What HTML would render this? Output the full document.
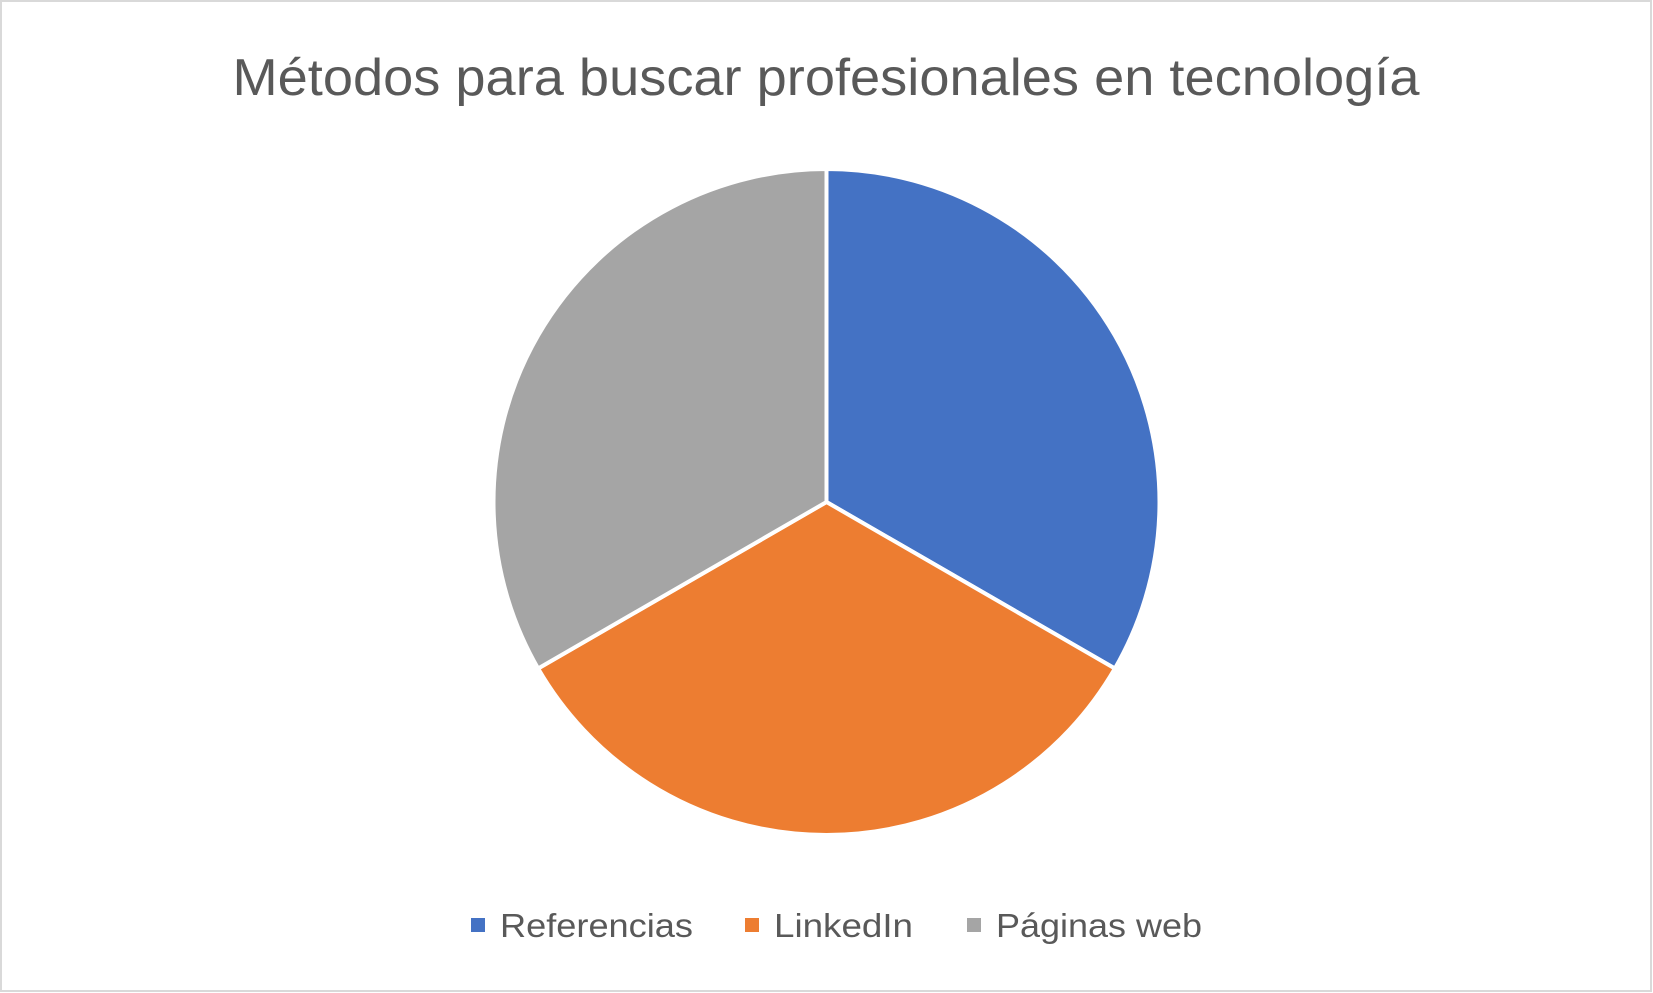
<!DOCTYPE html>
<html><head><meta charset="utf-8"><style>
html,body{margin:0;padding:0;background:#fff;}
svg{display:block;}
</style></head><body>
<svg id="chart" width="1653" height="993" viewBox="0 0 1653 993">
<rect x="1" y="1" width="1650" height="990" fill="#fff" stroke="#d9d9d9" stroke-width="2"/>
<text x="826" y="95" text-anchor="middle" font-family="Liberation Sans, sans-serif" font-size="52" fill="#595959" textLength="1187" lengthAdjust="spacingAndGlyphs">Métodos para buscar profesionales en tecnología</text>
<g id="slices"></g>
<g id="legend"></g>
</svg>
<script>
const categories = ["Referencias", "LinkedIn", "Páginas web"];
const values = [1, 1, 1];
const colors = ["#4472c4", "#ed7d31", "#a5a5a5"];

const cx = 826.5, cy = 502, r = 333;
const total = values.reduce((a, b) => a + b, 0);
const ns = "http://www.w3.org/2000/svg";
const g = document.getElementById('slices');
let ang = 0;
function pt(a) { return [cx + r * Math.sin(a), cy - r * Math.cos(a)]; }
values.forEach((v, i) => {
  const a0 = ang, a1 = ang + v / total * 2 * Math.PI;
  ang = a1;
  const p0 = pt(a0), p1 = pt(a1);
  const large = (a1 - a0) > Math.PI ? 1 : 0;
  const p = document.createElementNS(ns, 'path');
  p.setAttribute('d', `M${cx},${cy} L${p0[0]},${p0[1]} A${r},${r} 0 ${large} 1 ${p1[0]},${p1[1]} Z`);
  p.setAttribute('fill', colors[i]);
  p.setAttribute('stroke', '#fff');
  p.setAttribute('stroke-width', '4');
  p.setAttribute('stroke-linejoin', 'round');
  
  
  g.appendChild(p);
});

const lg = document.getElementById('legend');
const legendX = [471, 745, 967];
const legendW = [193, 139, 206];
categories.forEach((c, i) => {
  const s = document.createElementNS(ns, 'rect');
  s.setAttribute('x', legendX[i]); s.setAttribute('y', 918);
  s.setAttribute('width', 14); s.setAttribute('height', 14);
  s.setAttribute('fill', colors[i]);
  
  
  lg.appendChild(s);
  const t = document.createElementNS(ns, 'text');
  t.setAttribute('x', legendX[i] + 29); t.setAttribute('y', 937);
  t.setAttribute('font-family', 'Liberation Sans, sans-serif');
  t.setAttribute('font-size', '33');
  t.setAttribute('fill', '#595959');
  t.setAttribute('textLength', legendW[i]);
  t.setAttribute('lengthAdjust', 'spacingAndGlyphs');
  t.textContent = c;
  
  
  lg.appendChild(t);
});
</script>
</body></html>
